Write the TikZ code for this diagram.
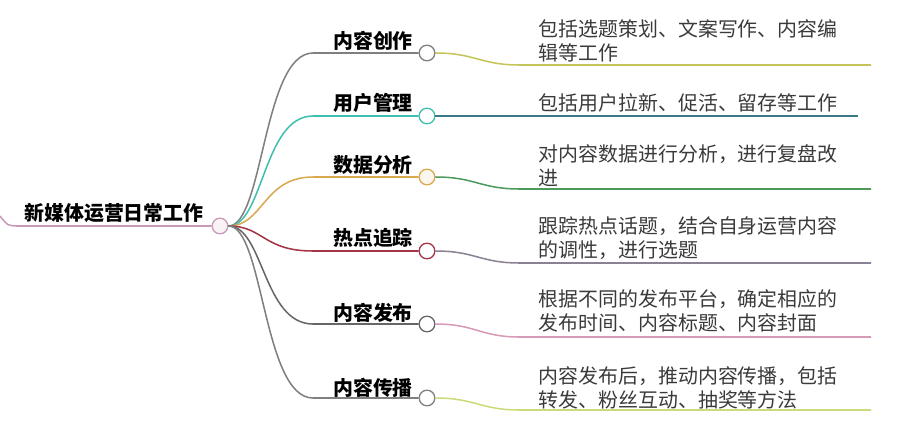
\documentclass[tikz,border=0pt]{standalone}
\usepackage{fontspec}
\setmainfont{Noto Sans CJK SC}
\definecolor{brgray}{HTML}{7F7F7F}
\definecolor{brteal}{HTML}{3FBFB0}
\definecolor{brgold}{HTML}{D9A94F}
\definecolor{brred}{HTML}{A33545}
\definecolor{brdark}{HTML}{666666}
\definecolor{lnolive}{HTML}{C4C45A}
\definecolor{lnteal}{HTML}{3A7A88}
\definecolor{lngreen}{HTML}{4C9A5C}
\definecolor{lnplum}{HTML}{8A8294}
\definecolor{lnpink}{HTML}{D59AB6}
\definecolor{lnlime}{HTML}{CCDA7A}
\definecolor{rootpink}{HTML}{C99AB8}
\definecolor{txt}{HTML}{3A3A3A}
\begin{document}
\begin{tikzpicture}[x=.3mm,y=-.3mm,line width=1.3pt,
font=\fontsize{17}{20.5}\selectfont,
knob/.style={circle,draw,fill=white,minimum size=4.7mm,inner sep=0pt,line width=1.1pt},
head/.style={font=\fontsize{17}{20.5}\selectfont\bfseries,inner sep=0pt},
desc/.style={anchor=west,align=left,inner sep=0pt,text=txt}]
\useasboundingbox (0,0) rectangle (900,430);
% root
\coordinate (in) at (0,216);
\node[head] (root) at (114,213) {新媒体运营日常工作};
\node[knob,draw=rootpink,fill=rootpink!12] (hub) at (220,226) {};
\draw[rootpink] (in) .. controls (8,226) .. (20,226) -- (hub);
% headings
\node[head] (h1) at (373,41) {内容创作};
\node[head] (h2) at (373,103) {用户管理};
\node[head] (h3) at (373,165) {数据分析};
\node[head] (h4) at (373,238) {热点追踪};
\node[head] (h5) at (373,313) {内容发布};
\node[head] (h6) at (373,388) {内容传播};
\node[knob,draw=brgray] (k1) at (427,53) {};
\node[knob,draw=brteal] (k2) at (427,116) {};
\node[knob,draw=brgold,fill=brgold!10] (k3) at (427,177) {};
\node[knob,draw=brred] (k4) at (427,251) {};
\node[knob,draw=brdark] (k5) at (427,324) {};
\node[knob,draw=brgray] (k6) at (427,398) {};
\coordinate (s1) at (313,53);
\coordinate (s2) at (313,116);
\coordinate (s3) at (313,177);
\coordinate (s4) at (313,251);
\coordinate (s5) at (313,324);
\coordinate (s6) at (313,398);
\draw[brgray] (hub.east) .. controls +(35,0) and +(-50,0) .. (s1) -- (k1);
\draw[brteal] (hub.east) .. controls +(35,0) and +(-50,0) .. (s2) -- (k2);
\draw[brgold] (hub.east) .. controls +(35,0) and +(-50,0) .. (s3) -- (k3);
\draw[brred] (hub.east) .. controls +(35,0) and +(-50,0) .. (s4) -- (k4);
\draw[brdark] (hub.east) .. controls +(35,0) and +(-50,0) .. (s5) -- (k5);
\draw[brgray] (hub.east) .. controls +(35,0) and +(-50,0) .. (s6) -- (k6);
% descriptions
\node[desc] (d1) at (538,41) {包括选题策划、文案写作、内容编\\辑等工作};
\node[desc] (d2) at (538,103) {包括用户拉新、促活、留存等工作};
\node[desc] (d3) at (538,166) {对内容数据进行分析，进行复盘改\\进};
\node[desc] (d4) at (538,238) {跟踪热点话题，结合自身运营内容\\的调性，进行选题};
\node[desc] (d5) at (538,311) {根据不同的发布平台，确定相应的\\发布时间、内容标题、内容封面};
\node[desc] (d6) at (538,388) {内容发布后，推动内容传播，包括\\转发、粉丝互动、抽奖等方法};
\coordinate (t1) at (520,65);  \coordinate (u1) at (871,65);
\coordinate (u2) at (858,116);
\coordinate (t3) at (520,189); \coordinate (u3) at (871,189);
\coordinate (t4) at (520,263); \coordinate (u4) at (871,263);
\coordinate (t5) at (520,337); \coordinate (u5) at (871,337);
\coordinate (t6) at (520,410); \coordinate (u6) at (871,410);
\draw[lnolive] (k1.east) .. controls +(40,0) and +(-40,0) .. (t1) -- (u1);
\draw[lnteal] (k2.east) -- (u2);
\draw[lngreen] (k3.east) .. controls +(40,0) and +(-40,0) .. (t3) -- (u3);
\draw[lnplum] (k4.east) .. controls +(40,0) and +(-40,0) .. (t4) -- (u4);
\draw[lnpink] (k5.east) .. controls +(40,0) and +(-40,0) .. (t5) -- (u5);
\draw[lnlime] (k6.east) .. controls +(40,0) and +(-40,0) .. (t6) -- (u6);
\end{tikzpicture}
\end{document}
